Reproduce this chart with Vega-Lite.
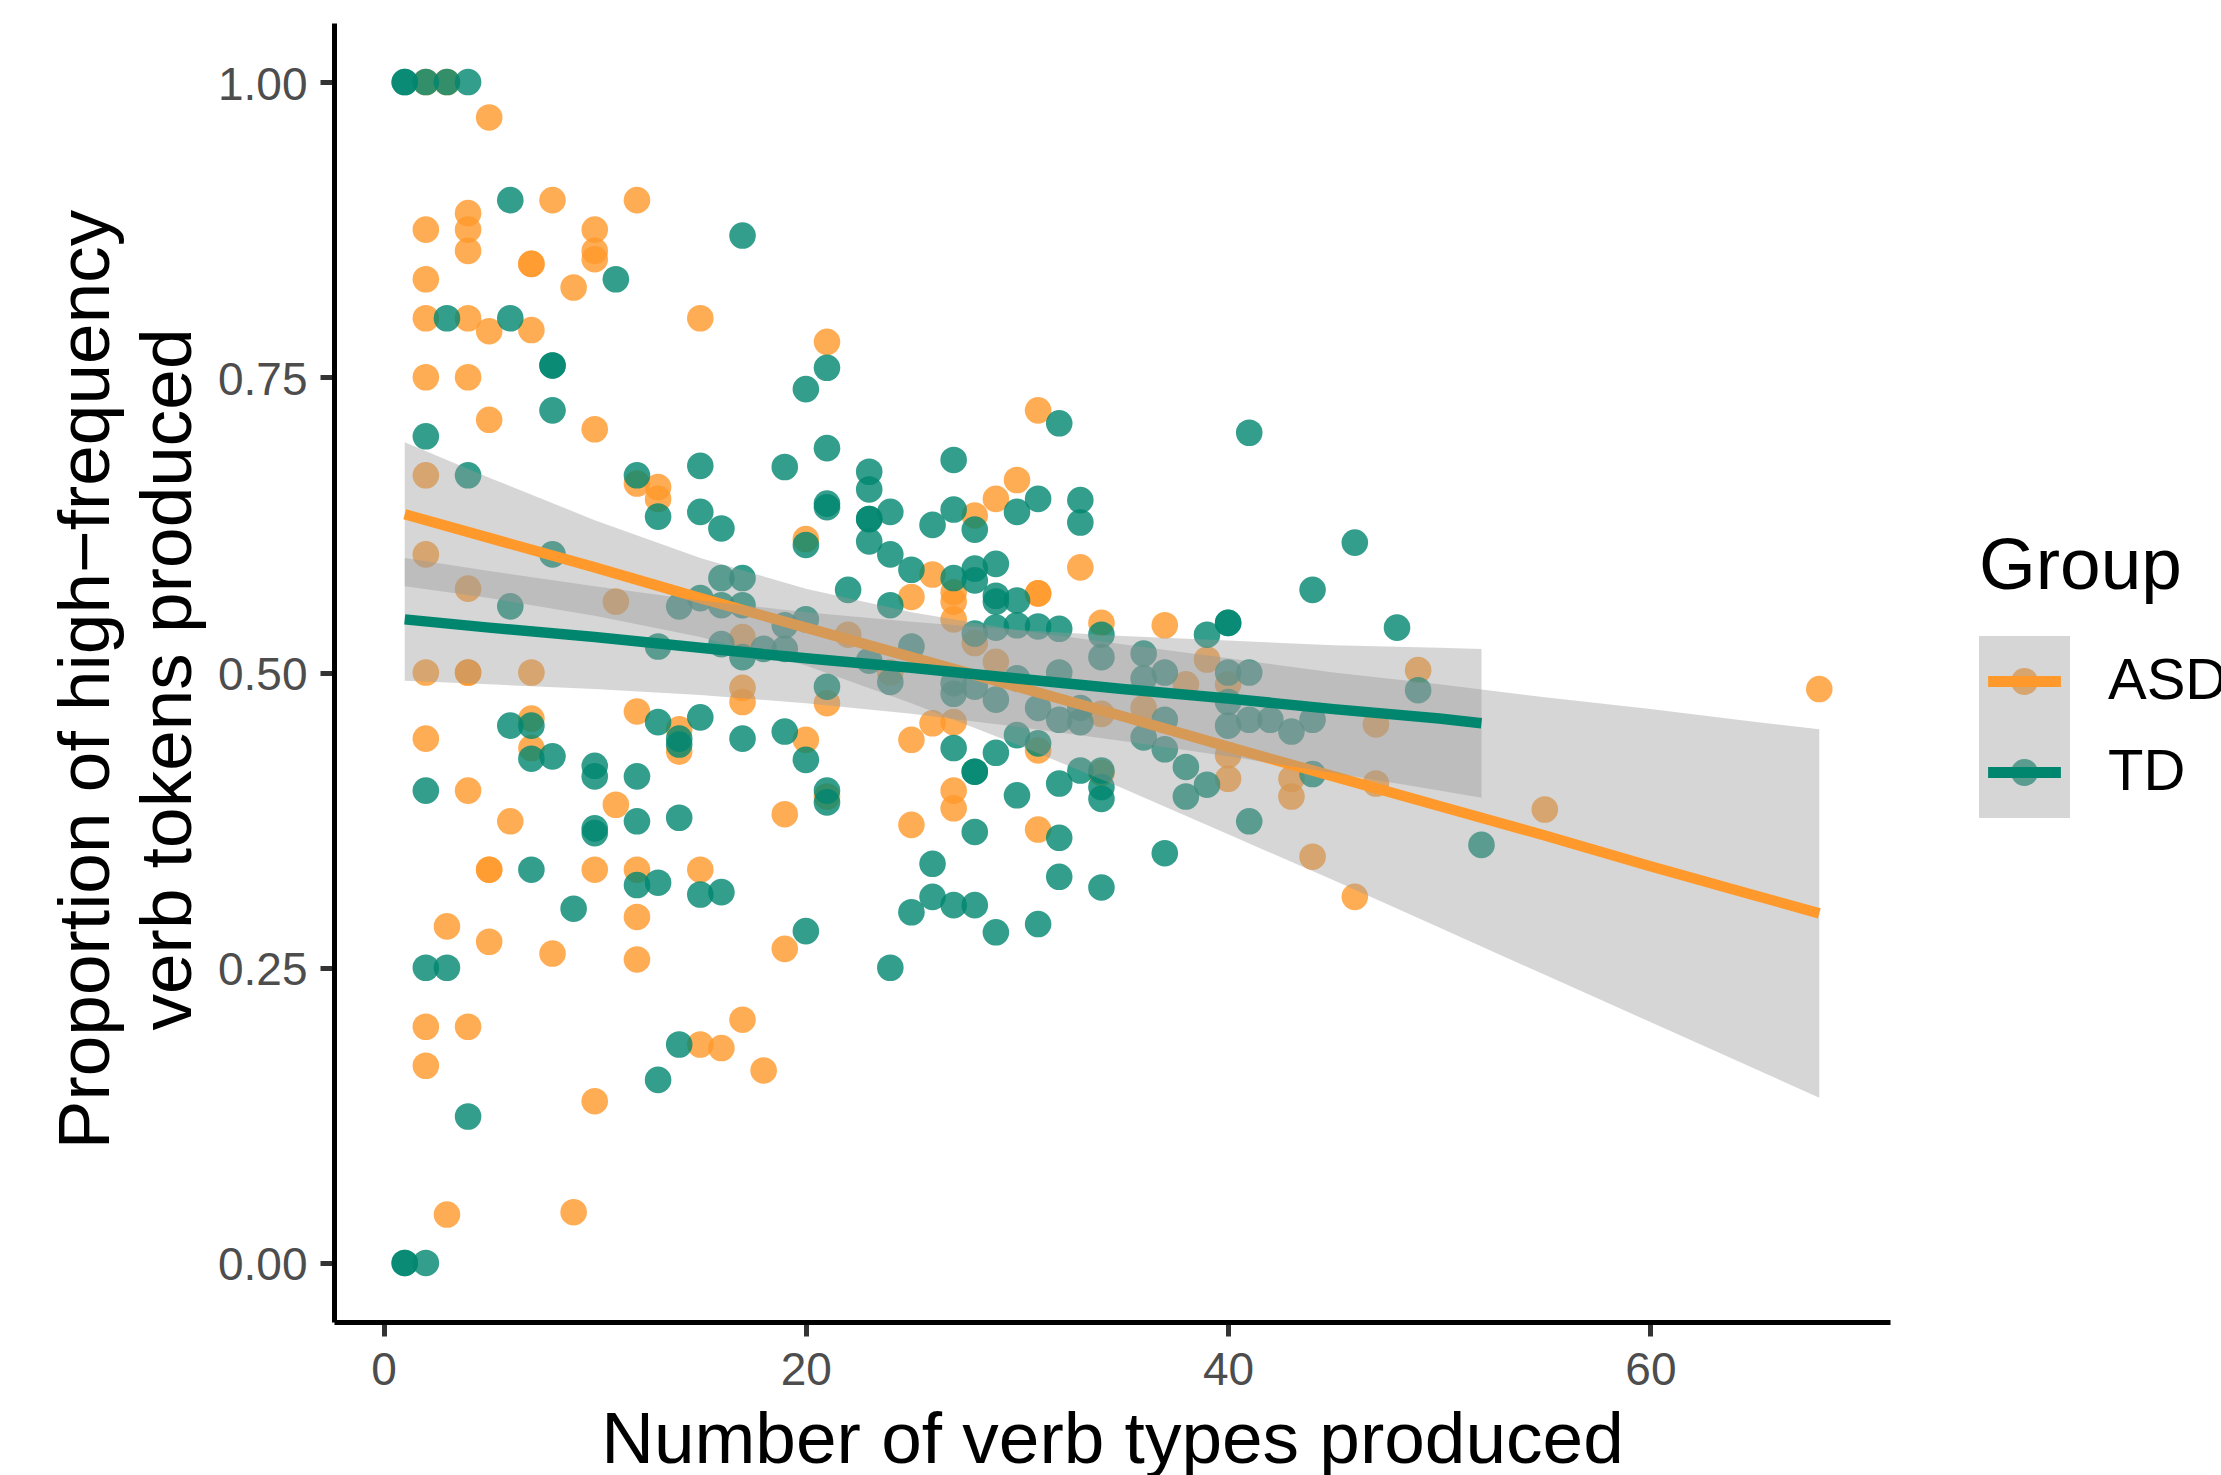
{
"$schema":"https://vega.github.io/schema/vega-lite/v6.json",
"width":1556,"height":1299,"autosize":"none",
"padding":{"left":334,"top":23,"right":331,"bottom":153},
"config":{"view":{"stroke":null},"font":"Liberation Sans",
"axis":{"grid":false,"domainColor":"black","domainWidth":5,"tickColor":"#333333","tickWidth":5,"tickSize":14,"labelFont":"Liberation Sans","labelFontSize":46,"labelColor":"#4D4D4D","titleFont":"Liberation Sans","titleFontSize":73,"titleFontWeight":"normal","titleColor":"black","labelFlush":false}},
"datasets":{
"pts":[
{"Group":"ASD","verbs":2,"prop":1.0},{"Group":"ASD","verbs":3,"prop":1.0},{"Group":"ASD","verbs":5,"prop":0.97},{"Group":"ASD","verbs":8,"prop":0.9},{"Group":"ASD","verbs":12,"prop":0.9},{"Group":"ASD","verbs":4,"prop":0.889},{"Group":"ASD","verbs":2,"prop":0.875},{"Group":"ASD","verbs":4,"prop":0.875},{"Group":"ASD","verbs":10,"prop":0.875},{"Group":"ASD","verbs":4,"prop":0.857},{"Group":"ASD","verbs":10,"prop":0.857},{"Group":"ASD","verbs":10,"prop":0.85},{"Group":"ASD","verbs":7,"prop":0.846},{"Group":"ASD","verbs":7,"prop":0.846},{"Group":"ASD","verbs":2,"prop":0.833},{"Group":"ASD","verbs":9,"prop":0.826},{"Group":"ASD","verbs":15,"prop":0.8},{"Group":"ASD","verbs":2,"prop":0.8},{"Group":"ASD","verbs":4,"prop":0.8},{"Group":"ASD","verbs":5,"prop":0.789},{"Group":"ASD","verbs":7,"prop":0.79},{"Group":"ASD","verbs":21,"prop":0.78},{"Group":"ASD","verbs":2,"prop":0.75},{"Group":"ASD","verbs":4,"prop":0.75},{"Group":"ASD","verbs":5,"prop":0.714},{"Group":"ASD","verbs":10,"prop":0.706},{"Group":"ASD","verbs":31,"prop":0.722},{"Group":"ASD","verbs":2,"prop":0.667},{"Group":"ASD","verbs":13,"prop":0.657},{"Group":"ASD","verbs":13,"prop":0.647},{"Group":"ASD","verbs":12,"prop":0.66},{"Group":"ASD","verbs":30,"prop":0.663},{"Group":"ASD","verbs":29,"prop":0.647},{"Group":"ASD","verbs":28,"prop":0.633},{"Group":"ASD","verbs":20,"prop":0.613},{"Group":"ASD","verbs":2,"prop":0.6},{"Group":"ASD","verbs":33,"prop":0.589},{"Group":"ASD","verbs":26,"prop":0.583},{"Group":"ASD","verbs":4,"prop":0.571},{"Group":"ASD","verbs":31,"prop":0.567},{"Group":"ASD","verbs":31,"prop":0.567},{"Group":"ASD","verbs":27,"prop":0.568},{"Group":"ASD","verbs":27,"prop":0.56},{"Group":"ASD","verbs":25,"prop":0.564},{"Group":"ASD","verbs":11,"prop":0.56},{"Group":"ASD","verbs":27,"prop":0.545},{"Group":"ASD","verbs":34,"prop":0.542},{"Group":"ASD","verbs":37,"prop":0.54},{"Group":"ASD","verbs":17,"prop":0.53},{"Group":"ASD","verbs":22,"prop":0.532},{"Group":"ASD","verbs":28,"prop":0.525},{"Group":"ASD","verbs":39,"prop":0.511},{"Group":"ASD","verbs":29,"prop":0.509},{"Group":"ASD","verbs":2,"prop":0.5},{"Group":"ASD","verbs":4,"prop":0.5},{"Group":"ASD","verbs":4,"prop":0.5},{"Group":"ASD","verbs":7,"prop":0.5},{"Group":"ASD","verbs":24,"prop":0.5},{"Group":"ASD","verbs":49,"prop":0.502},{"Group":"ASD","verbs":17,"prop":0.487},{"Group":"ASD","verbs":17,"prop":0.475},{"Group":"ASD","verbs":21,"prop":0.474},{"Group":"ASD","verbs":38,"prop":0.49},{"Group":"ASD","verbs":40,"prop":0.49},{"Group":"ASD","verbs":68,"prop":0.486},{"Group":"ASD","verbs":12,"prop":0.467},{"Group":"ASD","verbs":7,"prop":0.461},{"Group":"ASD","verbs":34,"prop":0.465},{"Group":"ASD","verbs":36,"prop":0.47},{"Group":"ASD","verbs":26,"prop":0.457},{"Group":"ASD","verbs":27,"prop":0.458},{"Group":"ASD","verbs":47,"prop":0.456},{"Group":"ASD","verbs":14,"prop":0.452},{"Group":"ASD","verbs":14,"prop":0.433},{"Group":"ASD","verbs":2,"prop":0.444},{"Group":"ASD","verbs":20,"prop":0.443},{"Group":"ASD","verbs":25,"prop":0.443},{"Group":"ASD","verbs":7,"prop":0.436},{"Group":"ASD","verbs":31,"prop":0.434},{"Group":"ASD","verbs":40,"prop":0.43},{"Group":"ASD","verbs":40,"prop":0.41},{"Group":"ASD","verbs":43,"prop":0.41},{"Group":"ASD","verbs":43,"prop":0.395},{"Group":"ASD","verbs":34,"prop":0.415},{"Group":"ASD","verbs":47,"prop":0.406},{"Group":"ASD","verbs":4,"prop":0.4},{"Group":"ASD","verbs":27,"prop":0.4},{"Group":"ASD","verbs":27,"prop":0.385},{"Group":"ASD","verbs":21,"prop":0.395},{"Group":"ASD","verbs":11,"prop":0.388},{"Group":"ASD","verbs":55,"prop":0.384},{"Group":"ASD","verbs":19,"prop":0.38},{"Group":"ASD","verbs":6,"prop":0.374},{"Group":"ASD","verbs":25,"prop":0.371},{"Group":"ASD","verbs":31,"prop":0.367},{"Group":"ASD","verbs":44,"prop":0.344},{"Group":"ASD","verbs":5,"prop":0.333},{"Group":"ASD","verbs":5,"prop":0.333},{"Group":"ASD","verbs":10,"prop":0.333},{"Group":"ASD","verbs":12,"prop":0.333},{"Group":"ASD","verbs":15,"prop":0.333},{"Group":"ASD","verbs":46,"prop":0.31},{"Group":"ASD","verbs":12,"prop":0.293},{"Group":"ASD","verbs":3,"prop":0.285},{"Group":"ASD","verbs":5,"prop":0.272},{"Group":"ASD","verbs":19,"prop":0.266},{"Group":"ASD","verbs":8,"prop":0.262},{"Group":"ASD","verbs":12,"prop":0.257},{"Group":"ASD","verbs":17,"prop":0.206},{"Group":"ASD","verbs":2,"prop":0.2},{"Group":"ASD","verbs":4,"prop":0.2},{"Group":"ASD","verbs":15,"prop":0.185},{"Group":"ASD","verbs":16,"prop":0.182},{"Group":"ASD","verbs":2,"prop":0.167},{"Group":"ASD","verbs":18,"prop":0.163},{"Group":"ASD","verbs":10,"prop":0.137},{"Group":"ASD","verbs":3,"prop":0.041},{"Group":"ASD","verbs":9,"prop":0.043},
{"Group":"TD","verbs":1,"prop":1.0},{"Group":"TD","verbs":1,"prop":1.0},{"Group":"TD","verbs":2,"prop":1.0},{"Group":"TD","verbs":3,"prop":1.0},{"Group":"TD","verbs":4,"prop":1.0},{"Group":"TD","verbs":6,"prop":0.9},{"Group":"TD","verbs":17,"prop":0.87},{"Group":"TD","verbs":11,"prop":0.833},{"Group":"TD","verbs":3,"prop":0.8},{"Group":"TD","verbs":6,"prop":0.8},{"Group":"TD","verbs":21,"prop":0.758},{"Group":"TD","verbs":8,"prop":0.76},{"Group":"TD","verbs":8,"prop":0.76},{"Group":"TD","verbs":20,"prop":0.74},{"Group":"TD","verbs":8,"prop":0.722},{"Group":"TD","verbs":32,"prop":0.711},{"Group":"TD","verbs":41,"prop":0.703},{"Group":"TD","verbs":2,"prop":0.7},{"Group":"TD","verbs":21,"prop":0.69},{"Group":"TD","verbs":27,"prop":0.68},{"Group":"TD","verbs":15,"prop":0.675},{"Group":"TD","verbs":19,"prop":0.674},{"Group":"TD","verbs":23,"prop":0.67},{"Group":"TD","verbs":4,"prop":0.667},{"Group":"TD","verbs":12,"prop":0.667},{"Group":"TD","verbs":23,"prop":0.655},{"Group":"TD","verbs":33,"prop":0.646},{"Group":"TD","verbs":31,"prop":0.647},{"Group":"TD","verbs":21,"prop":0.643},{"Group":"TD","verbs":21,"prop":0.64},{"Group":"TD","verbs":15,"prop":0.636},{"Group":"TD","verbs":24,"prop":0.636},{"Group":"TD","verbs":27,"prop":0.638},{"Group":"TD","verbs":30,"prop":0.636},{"Group":"TD","verbs":13,"prop":0.632},{"Group":"TD","verbs":23,"prop":0.63},{"Group":"TD","verbs":23,"prop":0.63},{"Group":"TD","verbs":33,"prop":0.627},{"Group":"TD","verbs":26,"prop":0.625},{"Group":"TD","verbs":16,"prop":0.622},{"Group":"TD","verbs":28,"prop":0.621},{"Group":"TD","verbs":23,"prop":0.611},{"Group":"TD","verbs":46,"prop":0.61},{"Group":"TD","verbs":20,"prop":0.608},{"Group":"TD","verbs":8,"prop":0.6},{"Group":"TD","verbs":24,"prop":0.6},{"Group":"TD","verbs":29,"prop":0.592},{"Group":"TD","verbs":28,"prop":0.588},{"Group":"TD","verbs":25,"prop":0.587},{"Group":"TD","verbs":16,"prop":0.58},{"Group":"TD","verbs":17,"prop":0.58},{"Group":"TD","verbs":27,"prop":0.58},{"Group":"TD","verbs":28,"prop":0.578},{"Group":"TD","verbs":22,"prop":0.57},{"Group":"TD","verbs":44,"prop":0.57},{"Group":"TD","verbs":29,"prop":0.565},{"Group":"TD","verbs":29,"prop":0.56},{"Group":"TD","verbs":30,"prop":0.561},{"Group":"TD","verbs":15,"prop":0.563},{"Group":"TD","verbs":6,"prop":0.556},{"Group":"TD","verbs":14,"prop":0.556},{"Group":"TD","verbs":16,"prop":0.557},{"Group":"TD","verbs":17,"prop":0.557},{"Group":"TD","verbs":24,"prop":0.557},{"Group":"TD","verbs":20,"prop":0.545},{"Group":"TD","verbs":40,"prop":0.542},{"Group":"TD","verbs":40,"prop":0.542},{"Group":"TD","verbs":31,"prop":0.539},{"Group":"TD","verbs":32,"prop":0.537},{"Group":"TD","verbs":29,"prop":0.538},{"Group":"TD","verbs":28,"prop":0.533},{"Group":"TD","verbs":48,"prop":0.538},{"Group":"TD","verbs":19,"prop":0.54},{"Group":"TD","verbs":30,"prop":0.54},{"Group":"TD","verbs":34,"prop":0.532},{"Group":"TD","verbs":39,"prop":0.532},{"Group":"TD","verbs":13,"prop":0.522},{"Group":"TD","verbs":16,"prop":0.524},{"Group":"TD","verbs":25,"prop":0.522},{"Group":"TD","verbs":18,"prop":0.52},{"Group":"TD","verbs":19,"prop":0.52},{"Group":"TD","verbs":36,"prop":0.516},{"Group":"TD","verbs":17,"prop":0.513},{"Group":"TD","verbs":34,"prop":0.513},{"Group":"TD","verbs":23,"prop":0.51},{"Group":"TD","verbs":37,"prop":0.5},{"Group":"TD","verbs":40,"prop":0.5},{"Group":"TD","verbs":41,"prop":0.5},{"Group":"TD","verbs":36,"prop":0.495},{"Group":"TD","verbs":30,"prop":0.495},{"Group":"TD","verbs":32,"prop":0.5},{"Group":"TD","verbs":21,"prop":0.488},{"Group":"TD","verbs":24,"prop":0.492},{"Group":"TD","verbs":27,"prop":0.491},{"Group":"TD","verbs":28,"prop":0.488},{"Group":"TD","verbs":49,"prop":0.485},{"Group":"TD","verbs":27,"prop":0.482},{"Group":"TD","verbs":29,"prop":0.477},{"Group":"TD","verbs":40,"prop":0.475},{"Group":"TD","verbs":33,"prop":0.47},{"Group":"TD","verbs":31,"prop":0.47},{"Group":"TD","verbs":15,"prop":0.462},{"Group":"TD","verbs":13,"prop":0.458},{"Group":"TD","verbs":6,"prop":0.455},{"Group":"TD","verbs":7,"prop":0.455},{"Group":"TD","verbs":40,"prop":0.455},{"Group":"TD","verbs":32,"prop":0.46},{"Group":"TD","verbs":33,"prop":0.458},{"Group":"TD","verbs":37,"prop":0.46},{"Group":"TD","verbs":41,"prop":0.46},{"Group":"TD","verbs":42,"prop":0.46},{"Group":"TD","verbs":44,"prop":0.46},{"Group":"TD","verbs":19,"prop":0.45},{"Group":"TD","verbs":43,"prop":0.45},{"Group":"TD","verbs":14,"prop":0.439},{"Group":"TD","verbs":14,"prop":0.444},{"Group":"TD","verbs":17,"prop":0.444},{"Group":"TD","verbs":27,"prop":0.436},{"Group":"TD","verbs":30,"prop":0.447},{"Group":"TD","verbs":31,"prop":0.44},{"Group":"TD","verbs":36,"prop":0.445},{"Group":"TD","verbs":37,"prop":0.435},{"Group":"TD","verbs":7,"prop":0.427},{"Group":"TD","verbs":8,"prop":0.429},{"Group":"TD","verbs":20,"prop":0.426},{"Group":"TD","verbs":29,"prop":0.432},{"Group":"TD","verbs":10,"prop":0.421},{"Group":"TD","verbs":28,"prop":0.416},{"Group":"TD","verbs":28,"prop":0.416},{"Group":"TD","verbs":38,"prop":0.42},{"Group":"TD","verbs":33,"prop":0.417},{"Group":"TD","verbs":34,"prop":0.417},{"Group":"TD","verbs":44,"prop":0.414},{"Group":"TD","verbs":10,"prop":0.412},{"Group":"TD","verbs":12,"prop":0.412},{"Group":"TD","verbs":32,"prop":0.406},{"Group":"TD","verbs":39,"prop":0.405},{"Group":"TD","verbs":2,"prop":0.4},{"Group":"TD","verbs":21,"prop":0.4},{"Group":"TD","verbs":34,"prop":0.403},{"Group":"TD","verbs":30,"prop":0.396},{"Group":"TD","verbs":38,"prop":0.395},{"Group":"TD","verbs":21,"prop":0.39},{"Group":"TD","verbs":34,"prop":0.393},{"Group":"TD","verbs":14,"prop":0.377},{"Group":"TD","verbs":12,"prop":0.374},{"Group":"TD","verbs":41,"prop":0.374},{"Group":"TD","verbs":10,"prop":0.368},{"Group":"TD","verbs":10,"prop":0.364},{"Group":"TD","verbs":28,"prop":0.365},{"Group":"TD","verbs":32,"prop":0.36},{"Group":"TD","verbs":52,"prop":0.354},{"Group":"TD","verbs":37,"prop":0.347},{"Group":"TD","verbs":26,"prop":0.338},{"Group":"TD","verbs":7,"prop":0.333},{"Group":"TD","verbs":32,"prop":0.327},{"Group":"TD","verbs":13,"prop":0.322},{"Group":"TD","verbs":12,"prop":0.32},{"Group":"TD","verbs":34,"prop":0.318},{"Group":"TD","verbs":15,"prop":0.312},{"Group":"TD","verbs":16,"prop":0.314},{"Group":"TD","verbs":26,"prop":0.31},{"Group":"TD","verbs":27,"prop":0.303},{"Group":"TD","verbs":28,"prop":0.303},{"Group":"TD","verbs":9,"prop":0.3},{"Group":"TD","verbs":25,"prop":0.297},{"Group":"TD","verbs":31,"prop":0.287},{"Group":"TD","verbs":20,"prop":0.281},{"Group":"TD","verbs":29,"prop":0.28},{"Group":"TD","verbs":2,"prop":0.25},{"Group":"TD","verbs":3,"prop":0.25},{"Group":"TD","verbs":24,"prop":0.25},{"Group":"TD","verbs":14,"prop":0.185},{"Group":"TD","verbs":13,"prop":0.155},{"Group":"TD","verbs":4,"prop":0.124},{"Group":"TD","verbs":1,"prop":0.0},{"Group":"TD","verbs":1,"prop":0.0},{"Group":"TD","verbs":2,"prop":0.0}
],
"fit":[
{"Group":"ASD","verbs":1,"lo":0.573,"fit":0.634,"hi":0.695},{"Group":"ASD","verbs":5,"lo":0.563,"fit":0.614,"hi":0.665},{"Group":"ASD","verbs":10,"lo":0.548,"fit":0.589,"hi":0.629},{"Group":"ASD","verbs":15,"lo":0.530,"fit":0.563,"hi":0.597},{"Group":"ASD","verbs":20,"lo":0.506,"fit":0.538,"hi":0.571},{"Group":"ASD","verbs":25,"lo":0.474,"fit":0.513,"hi":0.551},{"Group":"ASD","verbs":30,"lo":0.439,"fit":0.488,"hi":0.536},{"Group":"ASD","verbs":35,"lo":0.402,"fit":0.463,"hi":0.524},{"Group":"ASD","verbs":40,"lo":0.363,"fit":0.437,"hi":0.512},{"Group":"ASD","verbs":45,"lo":0.324,"fit":0.412,"hi":0.500},{"Group":"ASD","verbs":50,"lo":0.284,"fit":0.387,"hi":0.490},{"Group":"ASD","verbs":55,"lo":0.244,"fit":0.362,"hi":0.479},{"Group":"ASD","verbs":60,"lo":0.204,"fit":0.336,"hi":0.469},{"Group":"ASD","verbs":65,"lo":0.164,"fit":0.311,"hi":0.458},{"Group":"ASD","verbs":68,"lo":0.140,"fit":0.296,"hi":0.452},
{"Group":"TD","verbs":1,"lo":0.493,"fit":0.545,"hi":0.597},{"Group":"TD","verbs":5,"lo":0.490,"fit":0.538,"hi":0.586},{"Group":"TD","verbs":10,"lo":0.486,"fit":0.530,"hi":0.573},{"Group":"TD","verbs":15,"lo":0.481,"fit":0.521,"hi":0.561},{"Group":"TD","verbs":20,"lo":0.474,"fit":0.512,"hi":0.551},{"Group":"TD","verbs":25,"lo":0.465,"fit":0.504,"hi":0.543},{"Group":"TD","verbs":30,"lo":0.454,"fit":0.495,"hi":0.536},{"Group":"TD","verbs":35,"lo":0.442,"fit":0.486,"hi":0.531},{"Group":"TD","verbs":40,"lo":0.429,"fit":0.478,"hi":0.527},{"Group":"TD","verbs":45,"lo":0.415,"fit":0.469,"hi":0.523},{"Group":"TD","verbs":50,"lo":0.400,"fit":0.461,"hi":0.521},{"Group":"TD","verbs":52,"lo":0.394,"fit":0.457,"hi":0.520}
]},
"layer":[
{"data":{"name":"pts"},"mark":{"type":"circle","size":707,"opacity":0.8},
 "encoding":{
  "x":{"field":"verbs","type":"quantitative","scale":{"domain":[-2.35,71.35],"nice":false,"zero":false},
   "axis":{"values":[0,20,40,60],"labelPadding":12,"title":"Number of verb types produced","titleY":140,"titleBaseline":"alphabetic"}},
  "y":{"field":"prop","type":"quantitative","scale":{"domain":[-0.05,1.05],"nice":false,"zero":false},
   "axis":{"values":[0,0.25,0.5,0.75,1],"format":".2f","labelPadding":13,"labelOffset":3,"title":["Proportion of high−frequency","verb tokens produced"],"titleX":-226,"titleY":656,"titleBaseline":"alphabetic","titleAlign":"center","titleAngle":-90,"titleLineHeight":82}},
  "color":{"field":"Group","type":"nominal","scale":{"range":["#FF992B","#00866F"]},
   "legend":{"title":"Group","orient":"none","legendX":1645,"legendY":508,"padding":0,"zindex":1,"clipHeight":91,"titleFontSize":73,"titleFont":"Liberation Sans","titleFontWeight":"normal","titleColor":"black","titlePadding":32,"titleLimit":600,"titleOpacity":0,"labelFontSize":58,"labelFont":"Liberation Sans","labelColor":"black","labelOffset":38,"labelOpacity":0,"symbolSize":8281,"symbolStrokeWidth":0,"rowPadding":0,"symbolOffset":0,"symbolOpacity":0.8,"symbolType":"M 0.297 0 A 0.297 0.297 0 1 1 -0.297 0 A 0.297 0.297 0 1 1 0.297 0 Z"}}}},
{"data":{"name":"fit"},"transform":[{"filter":"datum.Group === 'ASD'"}],"mark":{"type":"area","opacity":0.4},
 "encoding":{
  "x":{"field":"verbs","type":"quantitative","scale":{"domain":[-2.35,71.35],"nice":false,"zero":false}},
  "y":{"field":"hi","type":"quantitative","scale":{"domain":[-0.05,1.05],"nice":false,"zero":false}},
  "y2":{"field":"lo"},
  "fill":{"field":"Group","type":"nominal","scale":{"domain":["ASD","TD"],"range":["#999999","#999999"]},
   "legend":{"title":"Group","orient":"none","legendX":1645,"legendY":508,"padding":0,"zindex":2,"clipHeight":91,"titleFontSize":73,"titleFont":"Liberation Sans","titleFontWeight":"normal","titleColor":"black","titlePadding":32,"titleLimit":600,"titleOpacity":0,"labelFontSize":58,"labelFont":"Liberation Sans","labelColor":"black","labelOffset":38,"labelOpacity":0,"symbolSize":8281,"symbolStrokeWidth":0,"rowPadding":0,"symbolOffset":0,"symbolOpacity":0.4,"symbolType":"square"}}}},
{"data":{"name":"fit"},"transform":[{"filter":"datum.Group === 'ASD'"}],"mark":{"type":"line","strokeWidth":10.5},
 "encoding":{
  "x":{"field":"verbs","type":"quantitative","scale":{"domain":[-2.35,71.35],"nice":false,"zero":false}},
  "y":{"field":"fit","type":"quantitative","scale":{"domain":[-0.05,1.05],"nice":false,"zero":false}},
  "stroke":{"field":"Group","type":"nominal","scale":{"range":["#FF992B","#00866F"]},
   "legend":{"title":"Group","orient":"none","legendX":1645,"legendY":508,"padding":0,"zindex":3,"clipHeight":91,"titleFontSize":73,"titleFont":"Liberation Sans","titleFontWeight":"normal","titleColor":"black","titlePadding":32,"titleLimit":600,"labelFontSize":58,"labelFont":"Liberation Sans","labelColor":"black","labelOffset":38,"symbolSize":8281,"symbolStrokeWidth":0,"rowPadding":0,"symbolOffset":0,"symbolOpacity":1,"symbolType":"M -0.8 -0.12 L 0.8 -0.12 L 0.8 0.12 L -0.8 0.12 Z",
   "encode":{"symbols":{"update":{"fill":{"scale":"stroke","field":"value"},"strokeWidth":{"value":0}}}}}}}},
{"data":{"name":"fit"},"transform":[{"filter":"datum.Group === 'TD'"}],"mark":{"type":"area","opacity":0.4},
 "encoding":{
  "x":{"field":"verbs","type":"quantitative","scale":{"domain":[-2.35,71.35],"nice":false,"zero":false}},
  "y":{"field":"hi","type":"quantitative","scale":{"domain":[-0.05,1.05],"nice":false,"zero":false}},
  "y2":{"field":"lo"},
  "fill":{"field":"Group","type":"nominal","scale":{"domain":["ASD","TD"],"range":["#999999","#999999"]}}}},
{"data":{"name":"fit"},"transform":[{"filter":"datum.Group === 'TD'"}],"mark":{"type":"line","strokeWidth":10.5},
 "encoding":{
  "x":{"field":"verbs","type":"quantitative","scale":{"domain":[-2.35,71.35],"nice":false,"zero":false}},
  "y":{"field":"fit","type":"quantitative","scale":{"domain":[-0.05,1.05],"nice":false,"zero":false}},
  "stroke":{"field":"Group","type":"nominal","scale":{"range":["#FF992B","#00866F"]}}}}
]
}
